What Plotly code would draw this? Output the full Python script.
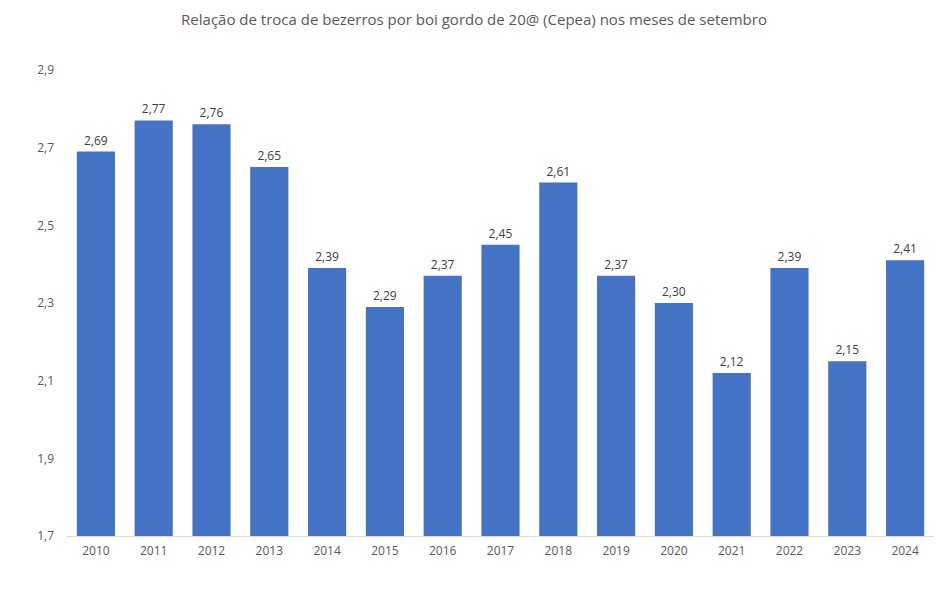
import plotly.graph_objects as go

years = ["2010", "2011", "2012", "2013", "2014", "2015", "2016", "2017",
         "2018", "2019", "2020", "2021", "2022", "2023", "2024"]
values = [2.69, 2.77, 2.76, 2.65, 2.39, 2.29, 2.37, 2.45,
          2.61, 2.37, 2.30, 2.12, 2.39, 2.15, 2.41]
y_ticks = [1.7, 1.9, 2.1, 2.3, 2.5, 2.7, 2.9]

title = "Relação de troca de bezerros por boi gordo de 20@ (Cepea) nos meses de setembro"

fig = go.Figure(go.Bar(
    x=years, y=values,
    marker=dict(color="#4472C4", line=dict(width=0)),
    texttemplate="%{y:.2f}", textposition="outside",
    textfont=dict(size=12, color="#404040", family="Open Sans"),
    cliponaxis=False,
))

fig.update_layout(
    width=948, height=589,
    margin=dict(l=67, r=14, t=70, b=53),
    paper_bgcolor="white", plot_bgcolor="white",
    separators=",.",
    bargap=0.34,
    showlegend=False,
    font=dict(family="Open Sans", color="#595959"),
    title=dict(text=title, x=0.5, xanchor="center", y=0.966, yanchor="middle",
               font=dict(size=15, color="#595959", family="Open Sans")),
    xaxis=dict(showgrid=False, showline=True, linecolor="#D9D9D9", linewidth=1,
               ticks="", tickfont=dict(size=12, color="#595959"), ticklabelstandoff=4),
    yaxis=dict(range=[1.7, 2.9], tickvals=y_ticks, tickformat=".1f",
               showgrid=False, zeroline=False, showline=False, ticks="",
               tickfont=dict(size=12, color="#595959"), ticklabelstandoff=12),
)

fig.write_html("out.html")
